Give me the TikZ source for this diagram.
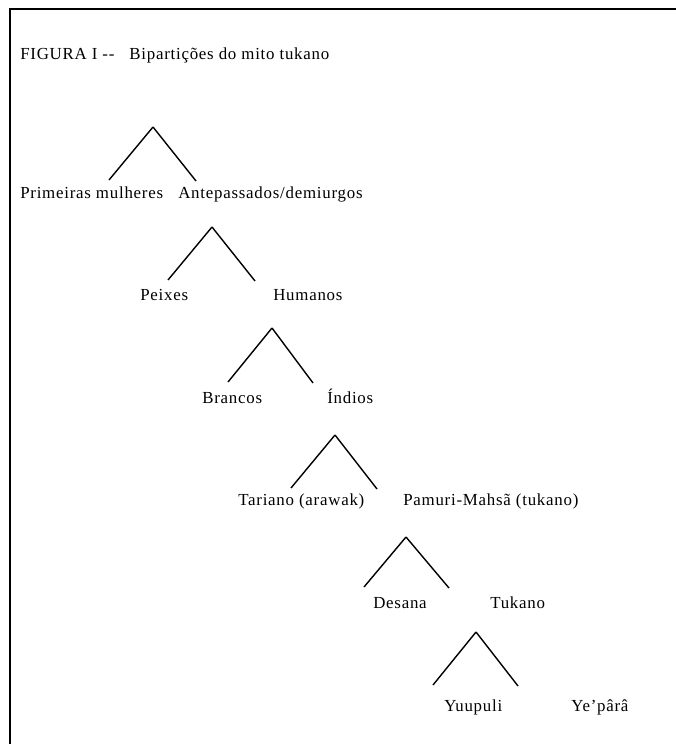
\documentclass[tikz,border=0pt]{standalone}
\usepackage{fontspec}
\setmainfont{Liberation Serif}[LetterSpace=4.5]
\usepackage{tikz}
\pgfdeclarelayer{edgelayer}
\pgfdeclarelayer{nodelayer}
\pgfsetlayers{edgelayer,nodelayer,main}
\tikzstyle{edge}=[draw=black, line width=1pt]
\tikzstyle{frame}=[draw=black, line width=1.4pt]
\tikzstyle{none}=[inner sep=0pt]
\tikzstyle{word}=[anchor=base west, inner sep=0pt, font=\fontsize{12}{14}\selectfont]

\begin{document}
\begin{tikzpicture}
			\useasboundingbox (0, 0) rectangle (16.9, -18.6);
			\begin{pgfonlayer}{nodelayer}
			\node [style=word] (0) at (0.5, -1.5) {FIGURA I -{}-\ \ \ Bipartições do mito tukano};
			\node [style=word] (1) at (0.5, -4.975) {Primeiras mulheres};
			\node [style=word] (2) at (4.45, -4.975) {Antepassados/demiurgos};
			\node [style=word] (3) at (3.5, -7.5) {Peixes};
			\node [style=word] (4) at (6.825, -7.5) {Humanos};
			\node [style=word] (5) at (5.05, -10.075) {Brancos};
			\node [style=word] (6) at (8.175, -10.075) {Índios};
			\node [style=word] (7) at (5.95, -12.625) {Tariano (arawak)};
			\node [style=word] (8) at (10.075, -12.625) {Pamuri-Mahsã (tukano)};
			\node [style=word] (9) at (9.325, -15.2) {Desana};
			\node [style=word] (10) at (12.25, -15.2) {Tukano};
			\node [style=word] (11) at (11.1, -17.775) {Yuupuli};
			\node [style=word] (12) at (14.275, -17.775) {Ye’pârâ};
			\node [style=none] (13) at (3.825, -3.175) {};
			\node [style=none] (14) at (2.725, -4.5) {};
			\node [style=none] (15) at (4.9, -4.525) {};
			\node [style=none] (16) at (5.3, -5.675) {};
			\node [style=none] (17) at (4.2, -7.0) {};
			\node [style=none] (18) at (6.375, -7.025) {};
			\node [style=none] (19) at (6.8, -8.2) {};
			\node [style=none] (20) at (5.7, -9.55) {};
			\node [style=none] (21) at (7.825, -9.575) {};
			\node [style=none] (22) at (8.375, -10.875) {};
			\node [style=none] (23) at (7.275, -12.2) {};
			\node [style=none] (24) at (9.425, -12.225) {};
			\node [style=none] (25) at (10.15, -13.425) {};
			\node [style=none] (26) at (9.1, -14.675) {};
			\node [style=none] (27) at (11.225, -14.7) {};
			\node [style=none] (28) at (11.9, -15.8) {};
			\node [style=none] (29) at (10.825, -17.125) {};
			\node [style=none] (30) at (12.95, -17.15) {};
			\node [style=none] (31) at (0.25, -18.6) {};
			\node [style=none] (32) at (0.25, -0.225) {};
			\node [style=none] (33) at (16.9, -0.225) {};
			\end{pgfonlayer}
			\begin{pgfonlayer}{edgelayer}
			\draw [style=frame] (31.center) to (32.center) to (33.center);
			\draw [style=edge] (13.center) to (14.center);
			\draw [style=edge] (13.center) to (15.center);
			\draw [style=edge] (16.center) to (17.center);
			\draw [style=edge] (16.center) to (18.center);
			\draw [style=edge] (19.center) to (20.center);
			\draw [style=edge] (19.center) to (21.center);
			\draw [style=edge] (22.center) to (23.center);
			\draw [style=edge] (22.center) to (24.center);
			\draw [style=edge] (25.center) to (26.center);
			\draw [style=edge] (25.center) to (27.center);
			\draw [style=edge] (28.center) to (29.center);
			\draw [style=edge] (28.center) to (30.center);
			\end{pgfonlayer}
			\end{tikzpicture}
\end{document}
